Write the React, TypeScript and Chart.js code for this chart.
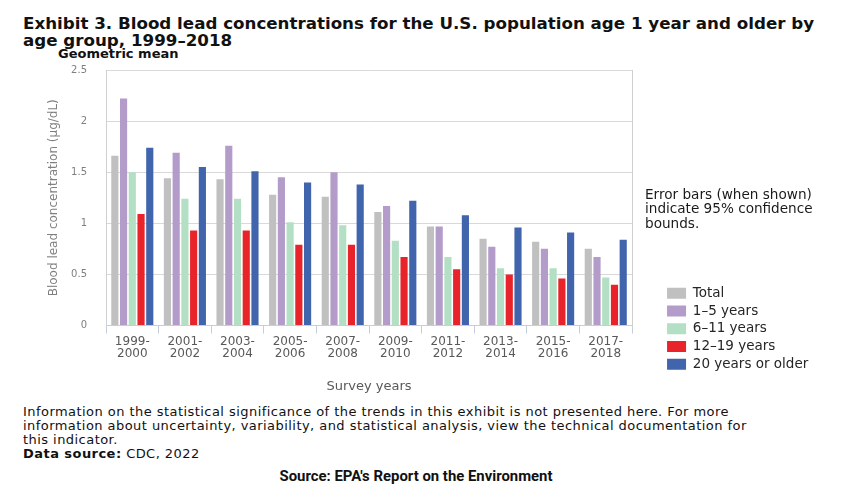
import { useEffect, useRef } from "react";
import { Chart, registerables } from "chart.js";

Chart.register(...registerables);

const categories: string[][] = [
  ["1999-", "2000"],
  ["2001-", "2002"],
  ["2003-", "2004"],
  ["2005-", "2006"],
  ["2007-", "2008"],
  ["2009-", "2010"],
  ["2011-", "2012"],
  ["2013-", "2014"],
  ["2015-", "2016"],
  ["2017-", "2018"],
];
const seriesLabels = ["Total", "1–5 years", "6–11 years", "12–19 years", "20 years or older"];
const total = [1.66, 1.44, 1.43, 1.28, 1.26, 1.11, 0.97, 0.85, 0.82, 0.75];
const age1to5 = [2.22, 1.69, 1.76, 1.45, 1.5, 1.17, 0.97, 0.77, 0.75, 0.67];
const age6to11 = [1.5, 1.24, 1.24, 1.01, 0.98, 0.83, 0.67, 0.56, 0.56, 0.47];
const age12to19 = [1.09, 0.93, 0.93, 0.79, 0.79, 0.67, 0.55, 0.5, 0.46, 0.4];
const age20plus = [1.74, 1.55, 1.51, 1.4, 1.38, 1.22, 1.08, 0.96, 0.91, 0.84];
const yTicks = [0, 0.5, 1, 1.5, 2, 2.5];
const seriesColors = ["#c0c0c0", "#b49cca", "#b3e0c4", "#e8242a", "#4165ad"];

const FONT = "'DejaVu Sans', Verdana, sans-serif";

export default function App() {
  const canvasRef = useRef<HTMLCanvasElement>(null);

  useEffect(() => {
    if (!canvasRef.current) return;
    const values = [total, age1to5, age6to11, age12to19, age20plus];
    const chart = new Chart(canvasRef.current, {
      type: "bar",
      data: {
        labels: categories,
        datasets: values.map((v, i) => ({
          label: seriesLabels[i],
          data: v,
          backgroundColor: seriesColors[i],
          borderWidth: 0,
          categoryPercentage: 0.83,
          barPercentage: 0.82,
        })),
      },
      options: {
        animation: false,
        responsive: true,
        maintainAspectRatio: false,
        layout: { padding: { left: 43, right: 31.75, top: 0, bottom: 0 } },
        plugins: {
          tooltip: { enabled: false },
          legend: {
            position: "right",
            align: "end",
            maxWidth: 230,
            onClick: (e: any, item: any, legend: any) => {
              if (item.datasetIndex == null) return;
              (Chart.defaults.plugins.legend.onClick as any).call(legend, e, item, legend);
            },
            labels: {
              boxWidth: 19,
              boxHeight: 11,
              padding: 4.25,
              color: "#262626",
              font: { family: FONT, size: 13.5 },
              generateLabels: (c: any) => {
                const items = (Chart.defaults.plugins.legend.labels.generateLabels as any)(c);
                items.push({
                  text: "",
                  fillStyle: "rgba(0,0,0,0)",
                  strokeStyle: "rgba(0,0,0,0)",
                  lineWidth: 0,
                  hidden: false,
                });
                return items;
              },
            },
          },
        },
        scales: {
          x: {
            grid: {
              display: true,
              drawOnChartArea: false,
              drawTicks: true,
              tickLength: 8,
              color: "#c5cedb",
              offset: true,
            },
            border: { display: true, color: "#c5cedb" },
            ticks: {
              color: "#595959",
              padding: 2,
              maxRotation: 0,
              autoSkip: false,
              font: { family: FONT, size: 12, lineHeight: 1.02 },
            },
            title: {
              display: true,
              text: "Survey years",
              color: "#595959",
              font: { family: FONT, size: 13, lineHeight: 1 },
              padding: { top: 18, bottom: 0 },
            },
          },
          y: {
            min: 0,
            max: 2.5,
            afterBuildTicks: (s: any) => {
              s.ticks = yTicks.map((v) => ({ value: v }));
            },
            afterFit: (s: any) => {
              s.width = 63;
            },
            grid: {
              color: "#d9d9d9",
              drawTicks: true,
              tickLength: 18,
              tickColor: "rgba(0,0,0,0)",
            },
            border: { display: true, color: "#d0d0d0" },
            ticks: {
              color: "#7f7f7f",
              padding: 1,
              font: { family: FONT, size: 10 },
              callback: (v: any) => String(v),
            },
            title: {
              display: true,
              text: "Blood lead concentration (µg/dL)",
              color: "#7f7f7f",
              font: { family: FONT, size: 12 },
              padding: { top: 4, bottom: 0 },
            },
          },
          y2: {
            position: "right",
            min: 0,
            max: 2.5,
            display: true,
            afterFit: (s: any) => {
              s.width = 30.75;
            },
            grid: { display: false, drawOnChartArea: false, drawTicks: false },
            border: { display: true, color: "#d0d0d0" },
            ticks: { display: false },
          },
        },
      },
    });
    return () => chart.destroy();
  }, []);

  return (
    <div
      style={{
        position: "absolute",
        left: 0,
        top: 0,
        width: 850,
        height: 493,
        background: "#ffffff",
        overflow: "hidden",
        fontFamily: FONT,
      }}
    >
      <div
        style={{
          position: "absolute",
          left: 23,
          top: 15,
          fontSize: 16.7,
          lineHeight: "16.5px",
          fontWeight: "bold",
          color: "#111",
          whiteSpace: "nowrap",
        }}
      >
        Exhibit 3. Blood lead concentrations for the U.S. population age 1 year and older by
        <br />
        age group, 1999–2018
      </div>
      <div
        style={{
          position: "absolute",
          left: 58,
          top: 47,
          fontSize: 13,
          lineHeight: "13px",
          fontWeight: "bold",
          color: "#111",
          whiteSpace: "nowrap",
        }}
      >
        Geometric mean
      </div>
      <div style={{ position: "absolute", left: 0, top: 63, width: 850, height: 330 }}>
        <canvas ref={canvasRef} />
      </div>
      <div
        style={{
          position: "absolute",
          left: 645,
          top: 186.5,
          fontSize: 13.6,
          lineHeight: "14.5px",
          color: "#1a1a1a",
          whiteSpace: "nowrap",
        }}
      >
        Error bars (when shown)
        <br />
        indicate 95% confidence
        <br />
        bounds.
      </div>
      <div
        style={{
          position: "absolute",
          left: 23,
          top: 404.5,
          fontSize: 13,
          letterSpacing: "0.45px",
          lineHeight: "14.2px",
          color: "#111",
          whiteSpace: "nowrap",
        }}
      >
        Information on the statistical significance of the trends in this exhibit is not presented here. For more
        <br />
        information about uncertainty, variability, and statistical analysis, view the technical documentation for
        <br />
        this indicator.
        <br />
        <b>Data source:</b> CDC, 2022
      </div>
      <div
        style={{
          position: "absolute",
          left: 0,
          width: 832,
          top: 468,
          textAlign: "center",
          fontFamily: "'Liberation Sans Narrow', Roboto, sans-serif",
          fontSize: 14.9,
          lineHeight: "16px",
          fontWeight: "bold",
          color: "#111",
          whiteSpace: "nowrap",
        }}
      >
        Source: EPA's Report on the Environment
      </div>
    </div>
  );
}
